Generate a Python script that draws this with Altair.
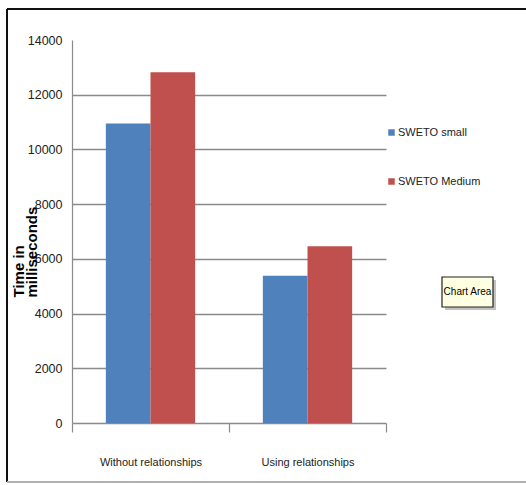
import altair as alt
import pandas as pd

categories = ["Without relationships", "Using relationships"]
series = ["SWETO small", "SWETO Medium"]
small_vals = [10950, 5380]
medium_vals = [12820, 6460]
y_ticks = [0, 2000, 4000, 6000, 8000, 10000, 12000, 14000]
colors = ["#4F81BD", "#C0504D"]

rows = []
for i, c in enumerate(categories):
    rows.append({"category": c, "series": series[0], "value": small_vals[i]})
    rows.append({"category": c, "series": series[1], "value": medium_vals[i]})
df = pd.DataFrame(rows)

FONT = "Liberation Sans, Arial, sans-serif"

bars = alt.Chart(df).mark_bar().encode(
    x=alt.X("category:N", sort=categories,
            scale=alt.Scale(paddingInner=0, paddingOuter=0),
            axis=alt.Axis(title=None, labelAngle=0, labelFont=FONT, labelFontSize=11,
                          labelColor="#222222", tickBand="extent", ticks=True, tickSize=9,
                          tickColor="#8a8a8a", tickWidth=1.2, domainColor="#8a8a8a",
                          domainWidth=1.5, labelPadding=24, grid=False)),
    xOffset=alt.XOffset("series:N", sort=series,
                        scale=alt.Scale(paddingInner=0, paddingOuter=0.758)),
    y=alt.Y("value:Q", scale=alt.Scale(domain=[0, 14000], nice=False),
            axis=alt.Axis(values=y_ticks, format="d", title=["Time in", "milliseconds"],
                          titleFont=FONT, titleFontWeight="bold", titleFontSize=15,
                          titleLineHeight=13, titleAngle=270, titleAlign="left",
                          titleBaseline="middle", titleX=-54, titleY=257, titleColor="#000000",
                          labelFont=FONT, labelFontSize=12.5, labelColor="#222222",
                          labelPadding=10, ticks=False, domainColor="#8a8a8a", domainWidth=1.2,
                          grid=True, gridColor="#8a8a8a", gridWidth=1.5,
                          gridOpacity=alt.condition("datum.value === 14000 || datum.value === 0",
                                                    alt.value(0), alt.value(1)))),
    color=alt.Color("series:N", sort=series,
                    scale=alt.Scale(domain=series, range=colors),
                    legend=alt.Legend(title=None, orient="none", legendX=314, legendY=87,
                                      symbolType="square", symbolSize=42, symbolStrokeWidth=0,
                                      labelFont=FONT, labelFontSize=11, labelColor="#222222",
                                      rowPadding=37, labelOffset=1)),
)

one = alt.Data(values=[{}])

frame_top = alt.Chart(one).mark_rule(color="#111111", strokeWidth=2).encode(
    x=alt.value(-65), x2=alt.value(470), y=alt.value(-31))
frame_left = alt.Chart(one).mark_rule(color="#111111", strokeWidth=2).encode(
    x=alt.value(-65), y=alt.value(-31), y2=alt.value(442))
frame_bottom = alt.Chart(one).mark_rule(color="#b0b0b0", strokeWidth=2).encode(
    x=alt.value(-65), x2=alt.value(470), y=alt.value(442))

shadow = alt.Chart(one).mark_rect(color="#999999", opacity=0.6).encode(
    x=alt.value(373), x2=alt.value(424), y=alt.value(240), y2=alt.value(270))
box = alt.Chart(one).mark_rect(fill="#FFFFE1", stroke="#222222", strokeWidth=1.2).encode(
    x=alt.value(370), x2=alt.value(421), y=alt.value(237), y2=alt.value(267))
box_text = alt.Chart(one).mark_text(font=FONT, fontSize=10, color="#000000").encode(
    x=alt.value(395.5), y=alt.value(252), text=alt.value("Chart Area"))

chart = alt.layer(bars, frame_top, frame_left, frame_bottom, shadow, box, box_text).properties(
    width=314, height=383,
    autosize=alt.AutoSizeParams(type="none"),
    padding={"left": 72, "top": 40, "right": 140, "bottom": 62},
    background="white",
).configure_view(stroke=None)

chart.save("out.html", embed_options={"renderer": "svg", "actions": False})
